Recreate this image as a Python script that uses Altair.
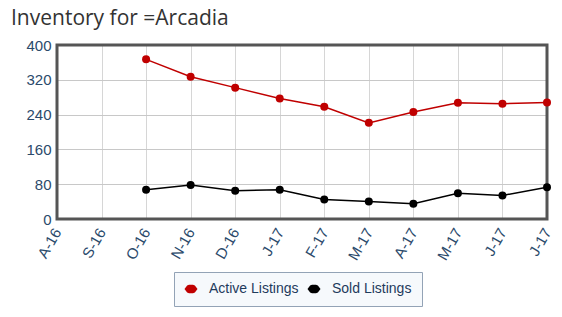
import altair as alt
import pandas as pd

months = ["A-16", "S-16", "O-16", "N-16", "D-16", "J-17", "F-17", "M-17", "A-17", "M-17", "J-17", "J-17"]
active = [None, None, 367, 327, 302, 277, 258, 221, 246, 267, 265, 268]
sold = [None, None, 67, 78, 65, 67, 45, 40, 35, 59, 54, 73]
series = ["Active Listings", "Sold Listings"]
colors = ["#c00000", "#000000"]

rows = []
for i, m in enumerate(months):
    if active[i] is not None:
        rows.append({"idx": i, "month": m, "series": series[0], "value": active[i]})
    if sold[i] is not None:
        rows.append({"idx": i, "month": m, "series": series[1], "value": sold[i]})
df = pd.DataFrame(rows)

label_expr = "[" + ",".join("'" + m + "'" for m in months) + "][datum.value]"

legend_symbol = (
    "M-1,0 L-0.6,-0.55 L-0.3,-0.65 L0.3,-0.65 L0.6,-0.55 L1,0 "
    "L0.6,0.55 L0.3,0.65 L-0.3,0.65 L-0.6,0.55 Z"
)

W, H = 490, 174

x = alt.X(
    "idx:O",
    scale=alt.Scale(type="point", domain=list(range(len(months))), padding=0),
    axis=alt.Axis(
        title=None,
        labelExpr=label_expr,
        labelAngle=-60,
        labelFont="Liberation Sans",
        labelFontSize=15,
        labelColor="#2b4a6b",
        labelPadding=10,
        tickSize=0,
        domain=False,
        grid=True,
        gridColor="#d6d6d6",
    ),
)
y = alt.Y(
    "value:Q",
    scale=alt.Scale(domain=[0, 400], nice=False),
    axis=alt.Axis(
        title=None,
        values=[0, 80, 160, 240, 320, 400],
        labelFont="Liberation Sans",
        labelFontSize=15,
        labelColor="#2b4a6b",
        labelPadding=6,
        tickSize=0,
        domain=False,
        grid=True,
        gridColor="#c8c8c8",
    ),
)
color = alt.Color(
    "series:N",
    scale=alt.Scale(domain=series, range=colors),
    legend=alt.Legend(
        title=None,
        orient="none",
        legendX=117,
        legendY=227,
        direction="horizontal",
        fillColor="#f6f9fc",
        strokeColor="#93a3b6",
        padding=10,
        labelFont="Liberation Sans",
        labelFontSize=14,
        labelColor="#1f3b5c",
        labelOffset=11,
        symbolType=legend_symbol,
        symbolSize=169,
        symbolStrokeWidth=0,
        columnPadding=8,
        labelLimit=200,
    ),
)

base = alt.Chart(df).encode(x=x, y=y, color=color, detail="series:N")
lines = base.mark_line(strokeWidth=1.5)
points = base.mark_point(filled=True, size=64, opacity=1)

frame = (
    alt.Chart(pd.DataFrame({"f": [0]}))
    .mark_rect(filled=False, stroke="#555555", strokeWidth=3)
    .encode(x=alt.value(0), x2=alt.value(W), y=alt.value(0), y2=alt.value(H))
)

chart = (
    alt.layer(lines, frame, points)
    .properties(
        width=W,
        height=H,
        autosize=alt.AutoSizeParams(type="none"),
        padding={"left": 57, "top": 45, "right": 15, "bottom": 98},
        background="white",
        title=alt.TitleParams(
            "Inventory for =Arcadia",
            anchor="start",
            frame="group",
            dx=-46,
            dy=-5,
            font="Open Sans",
            fontSize=21,
            fontWeight="normal",
            color="#333333",
        ),
    )
    .configure_view(stroke=None)
)

chart.save("out.html", embed_options={"renderer": "svg", "actions": False})
